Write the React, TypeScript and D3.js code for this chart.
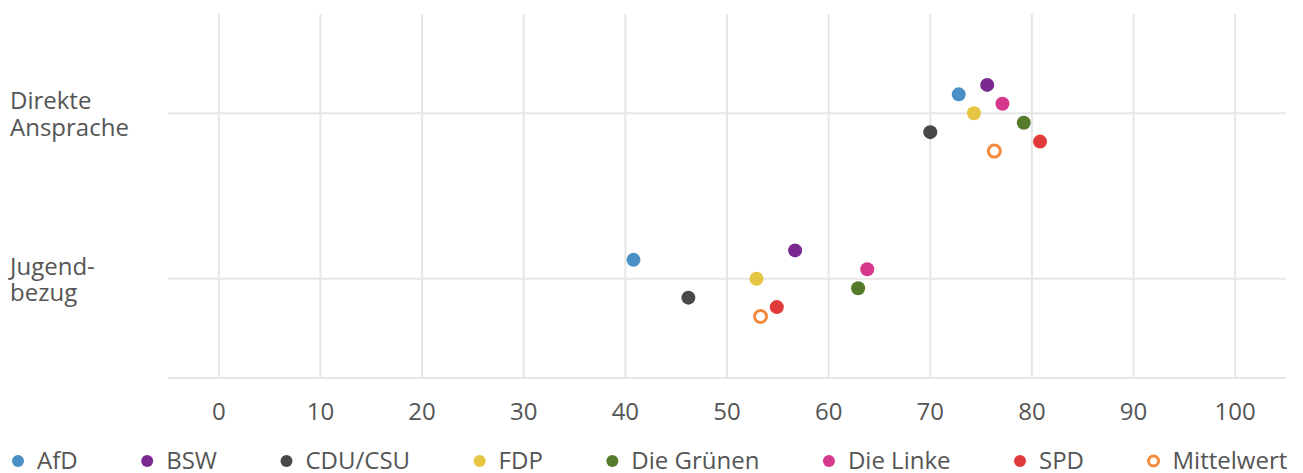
import React, { useEffect, useRef } from "react";
import * as d3 from "d3";

const categories = ["Direkte Ansprache", "Jugendbezug"];
const categoryLines = [["Direkte", "Ansprache"], ["Jugend-", "bezug"]];
const seriesNames = ["AfD", "BSW", "CDU/CSU", "FDP", "Die Grünen", "Die Linke", "SPD", "Mittelwert"];
const seriesColors = ["#4a90c4", "#7a2a8f", "#484848", "#e6c543", "#557a2c", "#d6398c", "#e03a3a", "#f28a3c"];
const seriesOffsetIndex = [-2, -3, 2, 0, 1, -1, 3, 4];
const valuesDirekte = [72.8, 75.6, 70.0, 74.3, 79.2, 77.1, 80.8, 76.3];
const valuesJugend = [40.8, 56.7, 46.2, 52.9, 62.9, 63.8, 54.9, 53.3];
const xTicks = [0, 10, 20, 30, 40, 50, 60, 70, 80, 90, 100];

const W = 1303;
const H = 473;
const FONT = "'Open Sans', sans-serif";
const FS = 24;
const TEXT = "#555555";
const GRID = "#e6e6e6";

export default function App() {
  const ref = useRef<SVGSVGElement | null>(null);

  useEffect(() => {
    const svg = d3.select(ref.current);
    svg.selectAll("*").remove();

    const left = 168, right = 1286, top = 14, bottom = 378;
    const x = d3.scaleLinear().domain([-5, 105]).range([left, right]);
    const y = d3.scalePoint<string>().domain(categories).range([top, bottom]).padding(0.6);
    const offStep = 9.45;

    svg.append("g").selectAll("line").data(xTicks).join("line")
      .attr("x1", d => x(d)).attr("x2", d => x(d))
      .attr("y1", top).attr("y2", bottom)
      .attr("stroke", GRID).attr("stroke-width", 2);
    svg.append("g").selectAll("line").data(categories).join("line")
      .attr("x1", left).attr("x2", right)
      .attr("y1", d => y(d)!).attr("y2", d => y(d)!)
      .attr("stroke", GRID).attr("stroke-width", 2);
    svg.append("line").attr("x1", left).attr("x2", right)
      .attr("y1", bottom).attr("y2", bottom)
      .attr("stroke", GRID).attr("stroke-width", 2);

    svg.append("g").selectAll("text").data(xTicks).join("text")
      .attr("x", d => x(d)).attr("y", 420)
      .attr("text-anchor", "middle")
      .attr("font-family", FONT).attr("font-size", FS).attr("fill", TEXT)
      .text(d => String(d));

    categories.forEach((c, i) => {
      categoryLines[i].forEach((ln, j) => {
        svg.append("text")
          .attr("x", 10).attr("y", y(c)! - 4 + j * 26.5)
          .attr("font-family", FONT).attr("font-size", FS).attr("fill", TEXT)
          .text(ln);
      });
    });

    const rows = [valuesDirekte, valuesJugend];
    const pts: { cat: string; s: number; v: number }[] = [];
    categories.forEach((c, ci) => {
      seriesNames.forEach((_, si) => pts.push({ cat: c, s: si, v: rows[ci][si] }));
    });
    const g = svg.append("g");
    pts.forEach(p => {
      const isMean = seriesNames[p.s] === "Mittelwert";
      const cx = x(p.v);
      const cy = y(p.cat)! + seriesOffsetIndex[p.s] * offStep;
      if (isMean) {
        g.append("circle").attr("cx", cx).attr("cy", cy).attr("r", 6)
          .attr("fill", "#ffffff").attr("stroke", seriesColors[p.s]).attr("stroke-width", 3);
      } else {
        g.append("circle").attr("cx", cx).attr("cy", cy).attr("r", 7)
          .attr("fill", seriesColors[p.s]);
      }
    });

    const lg = svg.append("g");
    let lx = 18;
    const ly = 461;
    seriesNames.forEach((name, i) => {
      const isMean = name === "Mittelwert";
      if (isMean) {
        lg.append("circle").attr("cx", lx).attr("cy", ly).attr("r", 5)
          .attr("fill", "#fff").attr("stroke", seriesColors[i]).attr("stroke-width", 3);
      } else {
        lg.append("circle").attr("cx", lx).attr("cy", ly).attr("r", 6)
          .attr("fill", seriesColors[i]);
      }
      const t = lg.append("text").attr("x", lx + 19).attr("y", ly + 8)
        .attr("font-family", FONT).attr("font-size", FS).attr("fill", TEXT)
        .text(name);
      const w = (t.node() as SVGTextElement).getComputedTextLength();
      lx = lx + 19 + w + 69.5;
    });
  }, []);

  return (
    <svg ref={ref} width={W} height={H}
      style={{ position: "absolute", left: 0, top: 0, background: "#fff" }} />
  );
}
